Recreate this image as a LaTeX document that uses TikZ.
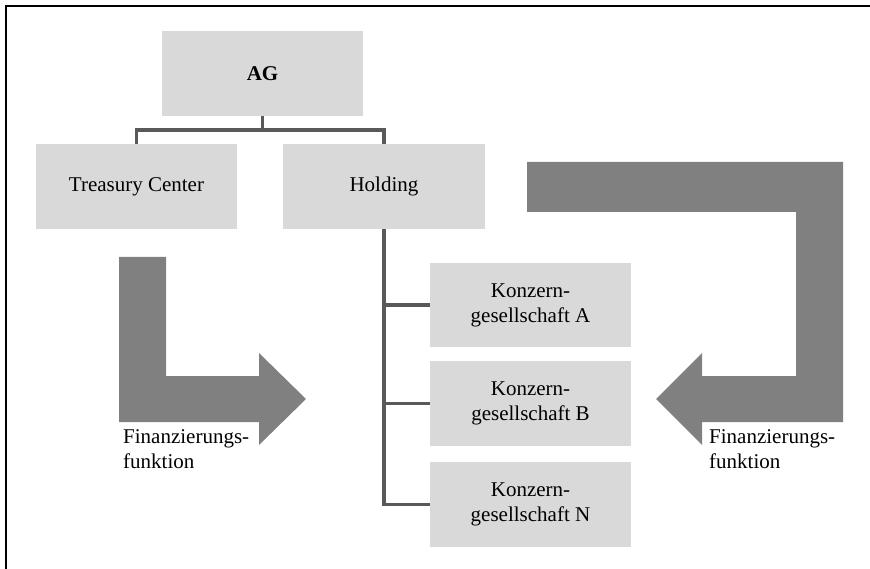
\documentclass[tikz,border=0pt]{standalone}
\usepackage{fontspec}
\setmainfont{Liberation Serif}
\begin{document}
\begin{tikzpicture}[x=1pt,y=-1pt,
  unit/.style={fill=boxgray, draw=none, minimum width=201pt, minimum height=85pt,
    inner sep=0pt, align=center, font=\fontsize{21}{25}\selectfont},
  link/.style={draw=linkgray, line width=3.2pt},
  flow/.style={fill=flowgray, draw=none},
  caption/.style={anchor=base west, inner sep=0pt, align=left,
    font=\fontsize{21}{25}\selectfont}]
\definecolor{boxgray}{HTML}{D9D9D9}
\definecolor{linkgray}{HTML}{595959}
\definecolor{flowgray}{HTML}{808080}
\useasboundingbox (0,0) rectangle (870,569);
% frame
\draw[line width=2pt] (6,569) -- (6,6) -- (870,6);

% organisation units
\node[unit] (ag) at (262.5,73.5) {\textbf{AG}};
\node[unit] (tc) at (136.5,186.5) {Treasury Center};
\node[unit, minimum width=202pt] (hold) at (384,186.5) {Holding};
\node[unit, minimum height=84pt] (ka) at (530.5,305) {Konzern-\\gesellschaft A};
\node[unit] (kb) at (530.5,403.5) {Konzern-\\gesellschaft B};
\node[unit] (kn) at (530.5,504.5) {Konzern-\\gesellschaft N};

% hierarchy lines
\coordinate (fork) at (262.5,130);
\draw[link] (ag.south) -- (fork);
\draw[link] (fork) -| (tc.north);
\draw[link] (fork) -| (hold.north);
\draw[link] (hold.south) |- (ka.west);
\draw[link] (hold.south) |- (kb.west);
\draw[link] (hold.south) |- (kn.west);

% financing arrows
\fill[flow] (119,257) -- (166,257) -- (166,376) -- (259,376) -- (259,353)
  -- (306,399) -- (259,445) -- (259,422) -- (119,422) -- cycle;
\fill[flow] (527,162) -- (843,162) -- (843,422) -- (702,422) -- (702,445)
  -- (656,399) -- (702,353) -- (702,376) -- (796,376) -- (796,212)
  -- (527,212) -- cycle;

% captions (anchored on the baseline of the last line)
\node[caption] (capl) at (123,468) {Finanzierungs-\\funktion};
\node[caption] (capr) at (709,468) {Finanzierungs-\\funktion};
\end{tikzpicture}
\end{document}
